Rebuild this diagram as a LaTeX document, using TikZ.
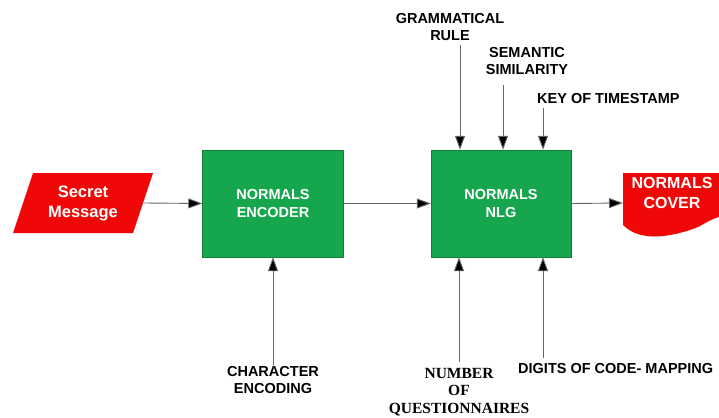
\documentclass[tikz,border=0pt]{standalone}
\usepackage{fontspec}
\setmainfont{Liberation Sans}
\newfontfamily\serifbf{Liberation Serif}
\usetikzlibrary{arrows.meta}

\definecolor{boxgreen}{RGB}{22,166,78}
\definecolor{flagred}{RGB}{240,8,8}

\begin{document}
\begin{tikzpicture}[x=1pt, y=-1pt, every node/.style={font=\fontsize{14.5}{17.5}\selectfont\bfseries, align=center, inner sep=0pt},
	block/.style={draw=boxgreen!75!black, fill=boxgreen, text=white, minimum width=141pt, minimum height=107pt},
	flow/.style={draw=black!60, line width=0.9pt, arrows={-Triangle[length=14pt, width=10pt, fill=black]}}]
	\clip (0,0) rectangle (719,417);
	\fill[white] (0,0) rectangle (719,417);
	% main chain
	\fill[flagred] (13,233) -- (33,173) -- (153,173) -- (133,233) -- cycle;
	\node[text=white, font=\fontsize{16.5}{20}\selectfont\bfseries] (msg) at (83,203) {Secret\\Message};
	\coordinate (msgR) at (144,203);
	\node[block] (enc) at (273,203.5) {NORMALS\\ENCODER};
	\node[block, minimum width=140pt] (nlg) at (501,203.5) {NORMALS\\NLG};
	\fill[flagred] (623,173) -- (740,173) -- (740,214) .. controls (712,214) and (705,226) .. (690,230) .. controls (668,237) and (640,242) .. (623,225) -- cycle;
	\node[text=white, font=\fontsize{16}{20}\selectfont\bfseries] (cover) at (672,193) {NORMALS\\COVER};
	\coordinate (coverL) at (623,203);
	\draw[flow] (msgR) -- (enc.west);
	\draw[flow] (enc.east) -- (nlg.west);
	\draw[flow] (nlg.east) -- (coverL);
	% inputs from above
	\node (gram) at (450,27) {GRAMMATICAL\\RULE};
	\node (sem) at (527,61) {SEMANTIC\\SIMILARITY};
	\node[anchor=west] (key) at (537,99) {KEY OF TIMESTAMP};
	\coordinate (gramS) at (460,45);
	\coordinate (semS) at (503,85);
	\coordinate (keyS) at (543,108);
	\draw[flow] (gramS) -- (gramS |- nlg.north);
	\draw[flow] (semS) -- (semS |- nlg.north);
	\draw[flow] (keyS) -- (keyS |- nlg.north);
	% inputs from below
	\node (char) at (273,380) {CHARACTER\\ENCODING};
	\node[font=\fontsize{15.5}{17.5}\selectfont\serifbf\bfseries] (num) at (459,392) {NUMBER\\OF\\QUESTIONNAIRES};
	\node[anchor=west] (dig) at (518,369) {DIGITS OF CODE- MAPPING};
	\coordinate (charN) at (273,365);
	\coordinate (numN) at (459,362);
	\coordinate (digN) at (543,358);
	\draw[flow] (charN) -- (enc.south);
	\draw[flow] (numN) -- (numN |- nlg.south);
	\draw[flow] (digN) -- (digN |- nlg.south);
\end{tikzpicture}
\end{document}
